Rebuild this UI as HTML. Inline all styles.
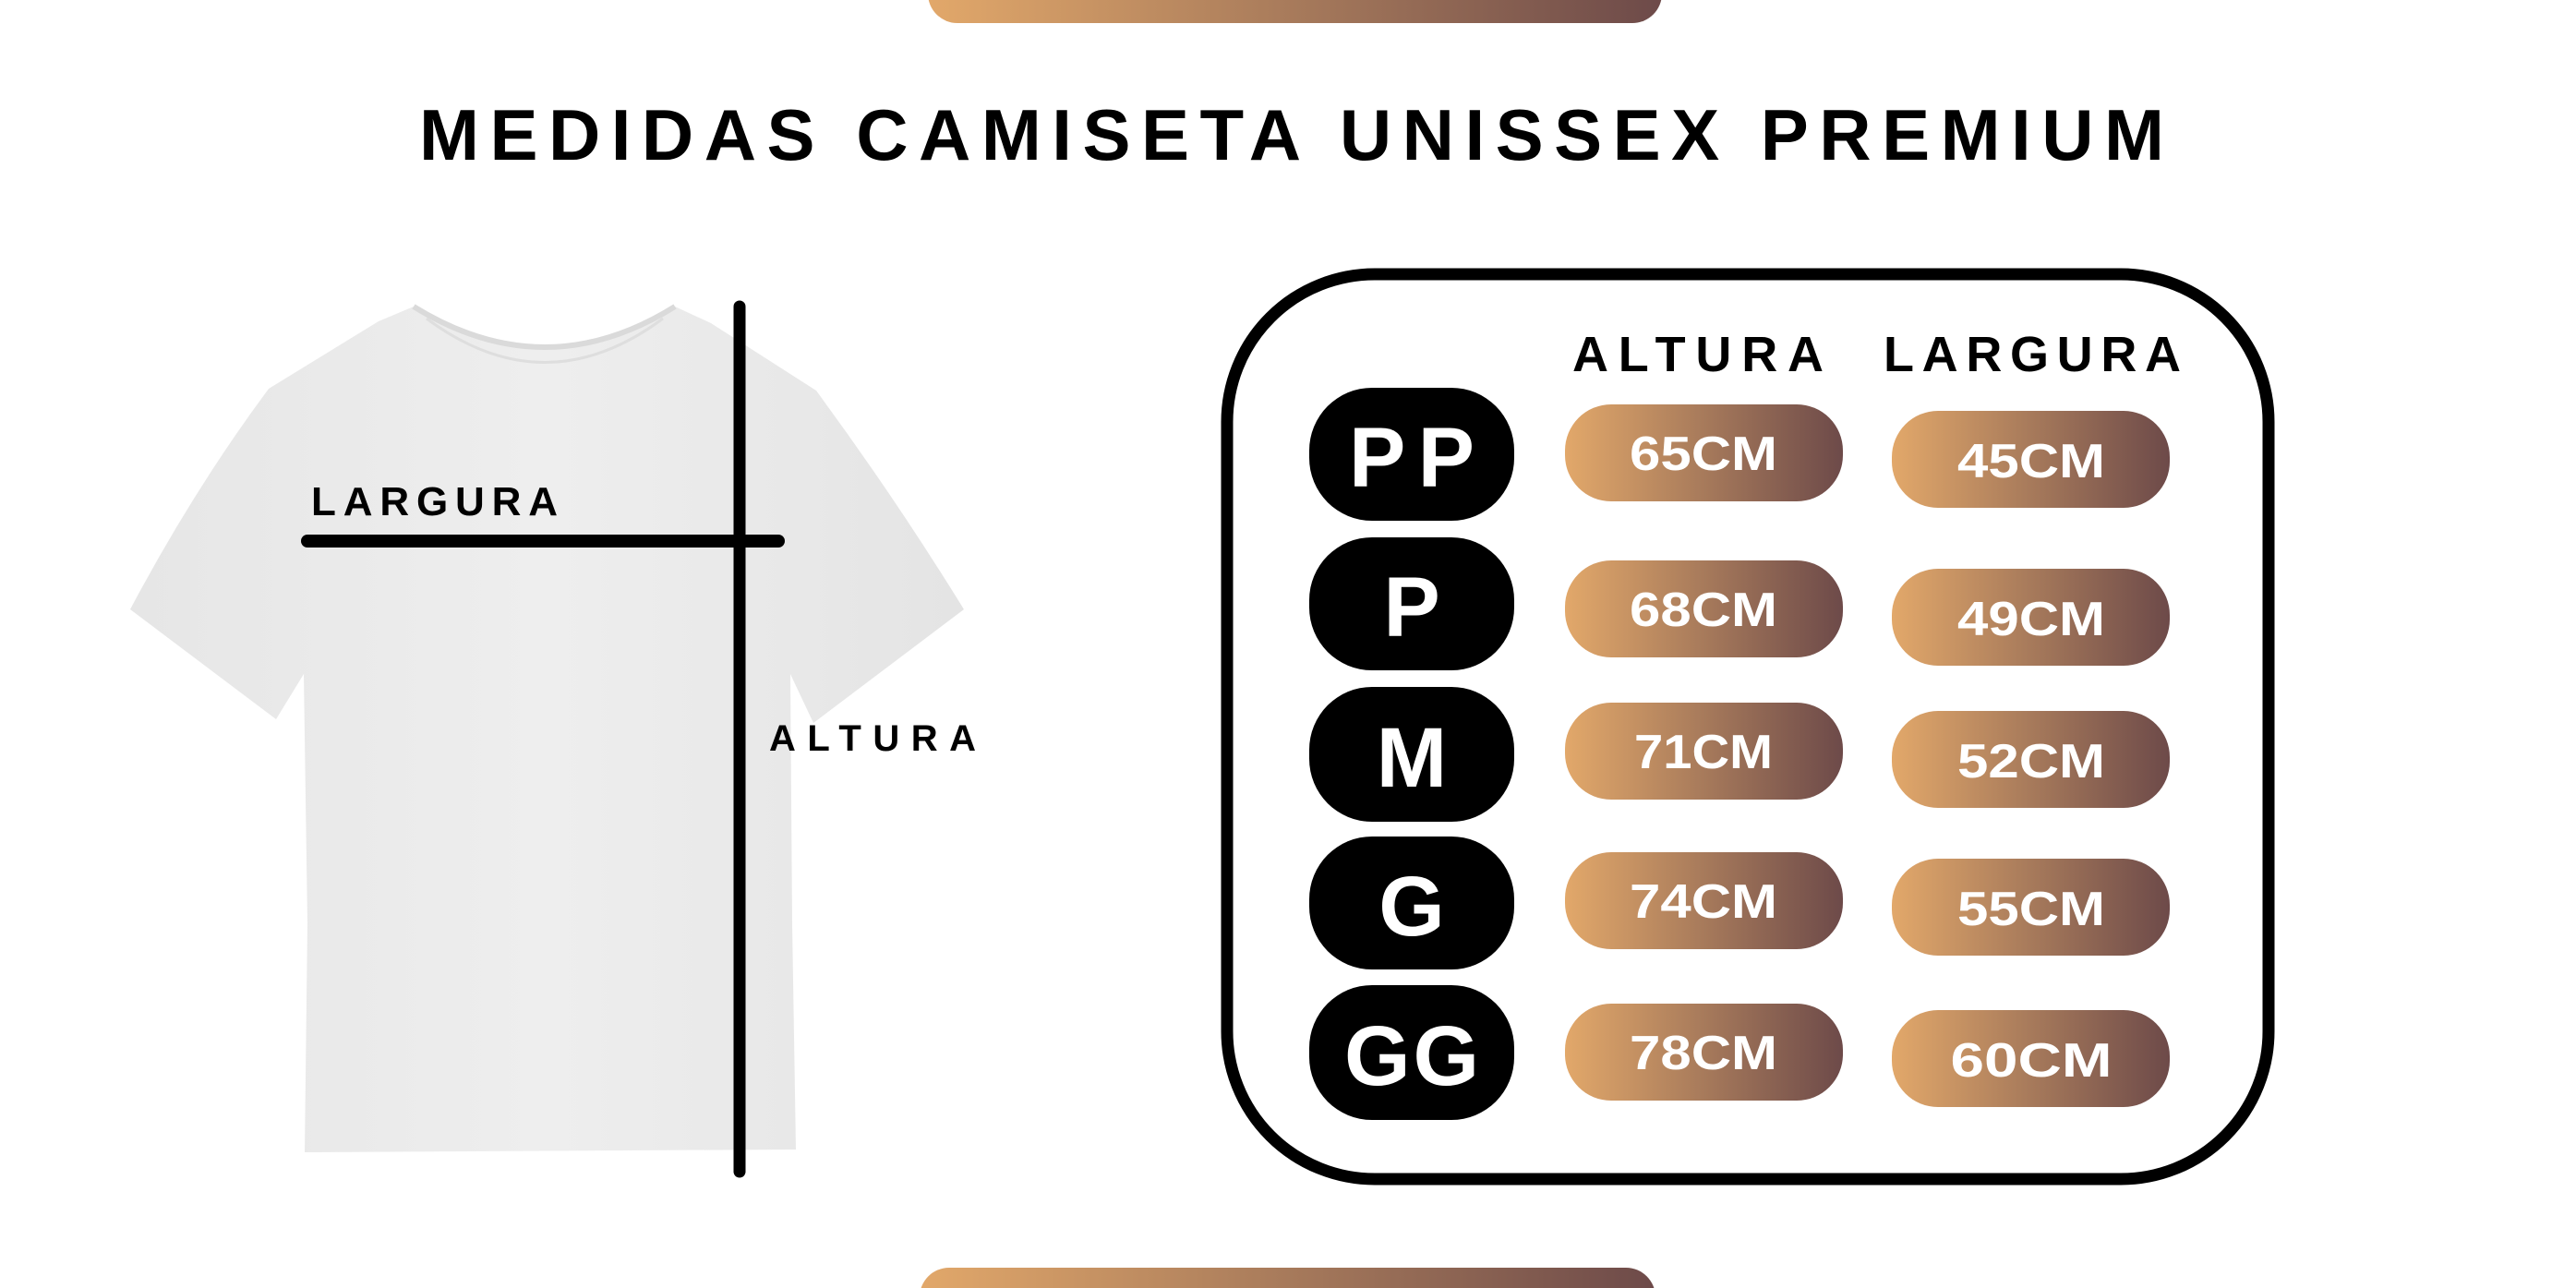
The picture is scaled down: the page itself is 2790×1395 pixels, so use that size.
<!DOCTYPE html>
<html><head><meta charset="utf-8"><style>
html,body{margin:0;padding:0;background:#fff;width:2790px;height:1395px;overflow:hidden}
svg{display:block}
text{font-family:"Liberation Sans",sans-serif;font-weight:bold}
</style></head><body>
<svg width="2790" height="1395" viewBox="0 0 2790 1395" xmlns="http://www.w3.org/2000/svg">
<defs>
<linearGradient id="g" x1="0" x2="1" y1="0" y2="0">
<stop offset="0" stop-color="#e2a86a"/><stop offset="0.5" stop-color="#a77a5b"/><stop offset="1" stop-color="#6d4a49"/>
</linearGradient>
<linearGradient id="sh" x1="0" x2="1" y1="0" y2="0">
<stop offset="0" stop-color="#e6e6e6"/><stop offset="0.5" stop-color="#eeeeee"/><stop offset="1" stop-color="#e4e4e4"/>
</linearGradient>
</defs>
<rect x="1005" y="-40" width="795" height="65" rx="32" fill="url(#g)"/>
<rect x="996" y="1373" width="797" height="65" rx="32" fill="url(#g)"/>
<text x="454" y="173" font-size="78" textLength="1890" lengthAdjust="spacing" fill="#000">MEDIDAS CAMISETA UNISSEX PREMIUM</text>

<!-- shirt -->
<path d="M448 332 Q590 420 731 332 L770 350 L884 423 Q970 540 1044 660 L881 783 L856 730 L858 1000 L862 1245 L330 1248 L333 1000 L329 730 L299 779 L141 660 Q210 530 291 421 L410 348 Z" fill="url(#sh)"/>
<path d="M448 332 Q590 420 731 332" fill="none" stroke="#dadada" stroke-width="6"/>
<path d="M462 345 Q590 440 718 345" fill="none" stroke="#dedede" stroke-width="3"/>
<line x1="333" y1="586" x2="843" y2="586" stroke="#000" stroke-width="14" stroke-linecap="round"/>
<line x1="801" y1="332" x2="801" y2="1269" stroke="#000" stroke-width="13" stroke-linecap="round"/>
<text x="337" y="558" font-size="44" textLength="267" lengthAdjust="spacing">LARGURA</text>
<text x="833" y="813" font-size="40" textLength="224" lengthAdjust="spacing">ALTURA</text>

<!-- table box -->
<rect x="1329" y="297" width="1128" height="980" rx="160" fill="#fff" stroke="#000" stroke-width="13"/>
<text x="1703" y="402" font-size="54" textLength="272" lengthAdjust="spacing">ALTURA</text>
<text x="2040" y="402" font-size="54" textLength="322" lengthAdjust="spacing">LARGURA</text>

<g fill="#000">
<rect x="1418" y="420" width="222" height="144" rx="68"/>
<rect x="1418" y="582" width="222" height="144" rx="68"/>
<rect x="1418" y="744" width="222" height="146" rx="68"/>
<rect x="1418" y="906" width="222" height="144" rx="68"/>
<rect x="1418" y="1067" width="222" height="146" rx="68"/>
</g>
<g fill="#fff" font-size="92" text-anchor="middle">
<text x="1529" y="527" textLength="136" lengthAdjust="spacing">PP</text>
<text x="1529" y="689">P</text>
<text x="1529" y="852">M</text>
<text x="1529" y="1013">G</text>
<text x="1529" y="1175" textLength="146" lengthAdjust="spacing">GG</text>
</g>

<g fill="url(#g)">
<rect x="1695" y="438" width="301" height="105" rx="50"/>
<rect x="1695" y="607" width="301" height="105" rx="50"/>
<rect x="1695" y="761" width="301" height="105" rx="50"/>
<rect x="1695" y="923" width="301" height="105" rx="50"/>
<rect x="1695" y="1087" width="301" height="105" rx="50"/>
<rect x="2049" y="445" width="301" height="105" rx="50"/>
<rect x="2049" y="616" width="301" height="105" rx="50"/>
<rect x="2049" y="770" width="301" height="105" rx="50"/>
<rect x="2049" y="930" width="301" height="105" rx="50"/>
<rect x="2049" y="1094" width="301" height="105" rx="50"/>
</g>
<g fill="#fff" font-size="52" text-anchor="middle">
<text x="1845" y="509" textLength="160" lengthAdjust="spacingAndGlyphs">65CM</text>
<text x="1845" y="678" textLength="160" lengthAdjust="spacingAndGlyphs">68CM</text>
<text x="1845" y="832" textLength="150" lengthAdjust="spacingAndGlyphs">71CM</text>
<text x="1845" y="994" textLength="160" lengthAdjust="spacingAndGlyphs">74CM</text>
<text x="1845" y="1158" textLength="160" lengthAdjust="spacingAndGlyphs">78CM</text>
<text x="2200" y="517" textLength="160" lengthAdjust="spacingAndGlyphs">45CM</text>
<text x="2200" y="688" textLength="160" lengthAdjust="spacingAndGlyphs">49CM</text>
<text x="2200" y="842" textLength="160" lengthAdjust="spacingAndGlyphs">52CM</text>
<text x="2200" y="1002" textLength="160" lengthAdjust="spacingAndGlyphs">55CM</text>
<text x="2200" y="1166" textLength="175" lengthAdjust="spacingAndGlyphs">60CM</text>
</g>
</svg>
</body></html>
